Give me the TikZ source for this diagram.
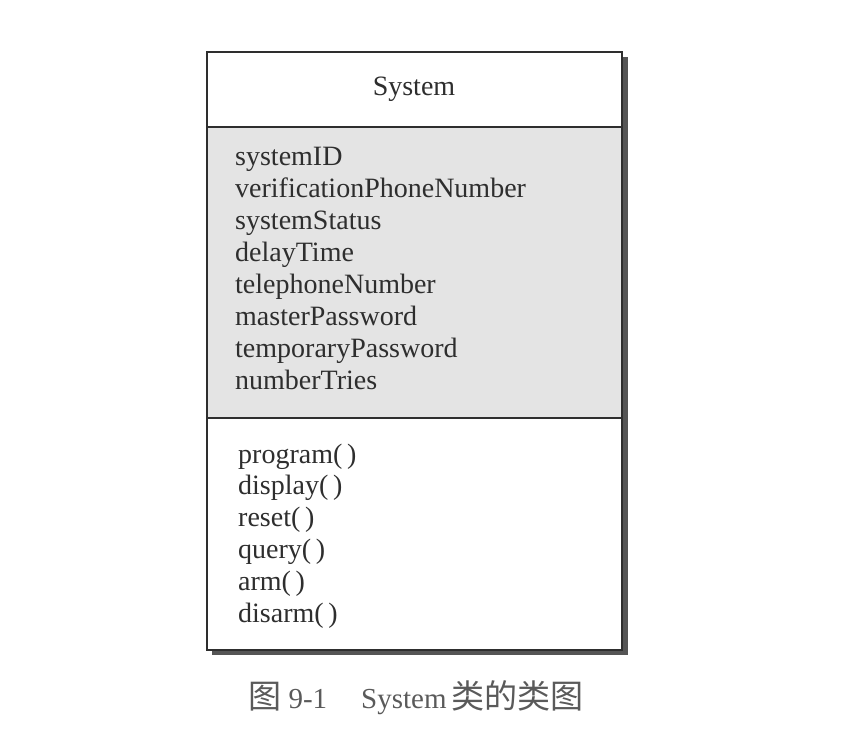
\documentclass[tikz,border=0pt]{standalone}
\usepackage{fontspec}
\setmainfont{Liberation Serif}
\newfontfamily\cjk[Scale=1.14]{Noto Sans CJK SC}
\definecolor{inkgray}{HTML}{2E2E2E}
\definecolor{shadegray}{HTML}{555555}
\definecolor{attrfill}{HTML}{E4E4E4}
\definecolor{capgray}{HTML}{5A5A5A}
\tikzset{
  member/.style={anchor=base west, inner sep=0pt, text=inkgray, font=\fontsize{28}{32}\selectfont},
  frame/.style={draw=inkgray, line width=1.6pt}
}

\begin{document}
\begin{tikzpicture}[x=1pt,y=1pt,yscale=-1,xscale=1]
\path (0,0) rectangle (843,750); %set diagram size

%Shadow
\fill[shadegray] (212,57) rectangle (628,655);
%Name compartment
\draw[frame, fill=white] (207,52) rectangle (622,127);
%Attribute compartment
\draw[frame, fill=attrfill] (207,127) rectangle (622,418);
%Operation compartment
\draw[frame, fill=white] (207,418) rectangle (622,650);

% Class name
\node[member, anchor=base] (classname) at (414,95) {System};

% Attributes
\foreach \attr [count=\i] in {systemID, verificationPhoneNumber, systemStatus, delayTime, telephoneNumber, masterPassword, temporaryPassword, numberTries}
  \node[member] (attr\i) at (235,{165+32.1*(\i-1)}) {\attr};

% Operations
\foreach \op [count=\i] in {program, display, reset, query, arm, disarm}
  \node[member] (op\i) at (238,{463+31.8*(\i-1)}) {\op(\,)};

% Caption
\node[anchor=base west, inner sep=0pt, text=capgray, font=\fontsize{29}{32}\selectfont] (caption) at (248,708)
  {{\cjk 图} 9-1\hspace{34pt}System\,{\cjk 类的类图}};

\end{tikzpicture}
\end{document}
